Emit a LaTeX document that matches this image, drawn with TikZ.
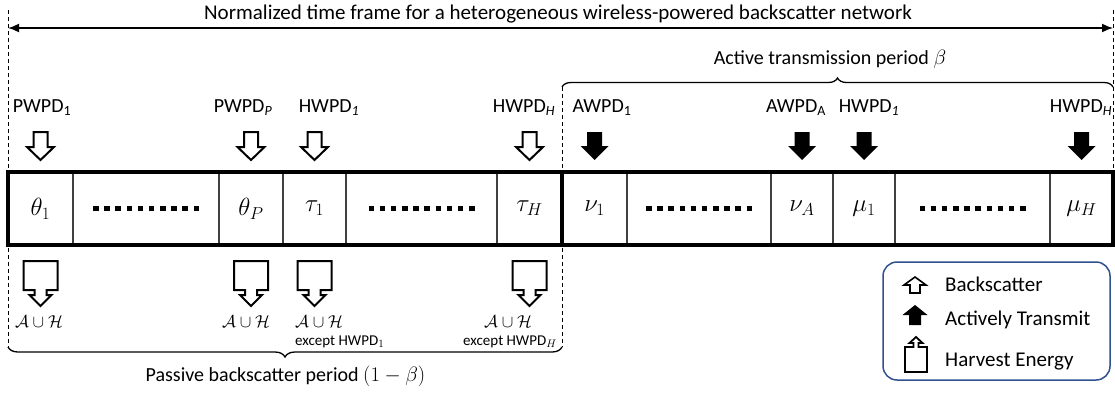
\documentclass[tikz,border=0pt]{standalone}
\usepackage{fontspec}
\setmainfont{Carlito}
\usetikzlibrary{positioning,calc,arrows.meta,decorations.pathreplacing}

\definecolor{legblue}{RGB}{47,82,143}

\tikzset{
  cell/.style={draw=black!75, line width=1.2pt, minimum height=73pt, inner sep=0pt, outer sep=0pt, font=\fontsize{26}{30}\selectfont},
  lbl/.style={font=\fontsize{20}{24}\selectfont, inner sep=0pt},
  sml/.style={font=\fontsize{15}{18}\selectfont, inner sep=0pt},
  setlbl/.style={font=\fontsize{18}{20}\selectfont, inner sep=0pt},
  legtxt/.style={font=\fontsize{21}{25}\selectfont, inner sep=0pt, anchor=base west},
  dotrow/.style={line width=5.5pt, dash pattern=on 5.5pt off 5.67pt},
  dashline/.style={line width=0.9pt, dash pattern=on 4pt off 3pt},
  brc/.style={decorate, decoration={brace, amplitude=#1}, line width=1.3pt},
  hollowdn/.pic={\draw[line width=2pt, fill=white] (-7,0) -- (7,0) -- (7,15) -- (13.5,15) -- (0,28) -- (-13.5,15) -- (-7,15) -- cycle;},
  filleddn/.pic={\fill (-7.5,0) -- (7.5,0) -- (7.5,14) -- (14,14) -- (0,28) -- (-14,14) -- (-7.5,14) -- cycle;},
  harvestdn/.pic={\draw[line width=2pt, fill=white] (-17,0) -- (17,0) -- (17,29) -- (6,29) -- (6,34) -- (11,34) -- (0,45) -- (-11,34) -- (-6,34) -- (-6,29) -- (-17,29) -- cycle;},
  hollowup/.pic={\draw[line width=1.6pt, fill=white] (0,0) -- (11,8) -- (5,8) -- (5,16) -- (-5,16) -- (-5,8) -- (-11,8) -- cycle;},
  filledup/.pic={\fill (0,0) -- (12.5,10) -- (6,10) -- (6,20) -- (-6,20) -- (-6,10) -- (-12.5,10) -- cycle;},
  harvestup/.pic={\draw[line width=1.8pt, fill=white] (0,0) -- (6.5,6) -- (2.5,6) -- (2.5,10) -- (11,10) -- (11,35) -- (-11,35) -- (-11,10) -- (-2.5,10) -- (-2.5,6) -- (-6.5,6) -- cycle;}
}

\begin{document}
\begin{tikzpicture}[x=1pt,y=-1pt]
  \useasboundingbox (0,0) rectangle (1115,394);

  % whole frame
  \coordinate (tl) at (8,28);
  \coordinate (tr) at (1113,28);
  \draw[{Latex[length=11pt,width=9pt]}-{Latex[length=11pt,width=9pt]}, line width=1.6pt] (tl) -- (tr);
  \node[font=\fontsize{21}{25}\selectfont, inner sep=0pt, anchor=base] (title) at (558,19.5) {Normalized time frame for a heterogeneous wireless-powered backscatter network};

  \draw[dashline] (8,10) -- (8,347);
  \draw[dashline] (562,87) -- (562,347);
  \draw[dashline] (1113,10) -- (1113,172);

  % slots
  \node[cell, minimum width=65pt, anchor=west] (th1) at (8,208.5) {$\theta_1$};
  \node[cell, minimum width=146pt, right=0pt of th1] (dA) {};
  \node[cell, minimum width=64pt, right=0pt of dA] (thP) {$\theta_P$};
  \node[cell, minimum width=63pt, right=0pt of thP] (tau1) {$\tau_1$};
  \node[cell, minimum width=151pt, right=0pt of tau1] (dB) {};
  \node[cell, minimum width=65pt, right=0pt of dB] (tauH) {$\tau_H$};
  \node[cell, minimum width=65pt, right=0pt of tauH] (nu1) {$\nu_1$};
  \node[cell, minimum width=144pt, right=0pt of nu1] (dC) {};
  \node[cell, minimum width=62pt, right=0pt of dC] (nuA) {$\nu_A$};
  \node[cell, minimum width=62pt, right=0pt of nuA] (mu1) {$\mu_1$};
  \node[cell, minimum width=155pt, right=0pt of mu1] (dD) {};
  \node[cell, minimum width=63pt, right=0pt of dD] (muH) {$\mu_H$};

  \foreach \c in {dA,dB,dC,dD}
    \draw[dotrow] ([xshift=-53pt]\c.center) -- ([xshift=53pt]\c.center);
  \draw[line width=4.5pt] (th1.north west) rectangle (muH.south east);
  \draw[line width=4pt] (tauH.north east) -- (tauH.south east);

  % devices
  \foreach \c in {th1,thP,tau1,tauH}
    \pic at ($(\c.north)+(0,-40)$) {hollowdn};
  \foreach \c in {nu1,nuA,mu1,muH}
    \pic at ($(\c.north)+(0,-40)$) {filleddn};
  \foreach \c in {th1,thP,tau1,tauH}
    \pic at ($(\c.south)+(0,16)$) {harvestdn};

  \node[lbl, anchor=base] (pw1) at (42,112.5) {PWPD\textsubscript{1}};
  \node[lbl, anchor=base] (pwP) at (243,112.5) {PWPD\textsubscript{\textit{P}}};
  \node[lbl, anchor=base] (hw1) at (329,112.5) {HWPD\textsubscript{\textit{1}}};
  \node[lbl, anchor=base] (hwH) at (524,112.5) {HWPD\textsubscript{\textit{H}}};
  \node[lbl, anchor=base] (aw1) at (602,112.5) {AWPD\textsubscript{1}};
  \node[lbl, anchor=base] (awA) at (796,112.5) {AWPD\textsubscript{A}};
  \node[lbl, anchor=base] (hw1b) at (869,112.5) {HWPD\textsubscript{\textit{1}}};
  \node[lbl, anchor=base] (hwHb) at (1081,112.5) {HWPD\textsubscript{\textit{H}}};

  \node[setlbl, anchor=base] (s1) at (39,327) {$\mathcal{A}\cup\mathcal{H}$};
  \node[setlbl, anchor=base] (s2) at (246,327) {$\mathcal{A}\cup\mathcal{H}$};
  \node[setlbl, anchor=base west] (s3) at (295,327) {$\mathcal{A}\cup\mathcal{H}$};
  \node[sml, anchor=base west] (e3) at (295,345) {except HWPD$_1$};
  \node[setlbl, anchor=base] (s4) at (508,327) {$\mathcal{A}\cup\mathcal{H}$};
  \node[sml, anchor=base] (e4) at (510,345) {except HWPD$_H$};

  % periods
  \coordinate (aL) at (562,87);
  \coordinate (aR) at (1113,87);
  \draw[brc=9pt] (aL) -- (aR);
  \node[lbl, anchor=base] (act) at (830,64) {Active transmission period $\beta$};
  \coordinate (pL) at (8,347);
  \coordinate (pR) at (562,347);
  \draw[brc=10pt] (pR) -- (pL);
  \node[lbl, anchor=base] (pas) at (285.5,381.5) {Passive backscatter period $(1-\beta)$};

  % legend
  \node[draw=legblue, line width=1.5pt, rounded corners=14pt, minimum width=227pt, minimum height=118pt, inner sep=0pt] (leg) at (996.5,321) {};
  \pic at (915,277) {hollowup};
  \pic at (915,305) {filledup};
  \pic at (916,337) {harvestup};
  \node[legtxt] (lb) at (945,291.5) {Backscatter};
  \node[legtxt] (la) at (945,325.5) {Actively Transmit};
  \node[legtxt] (lh) at (945,366) {Harvest Energy};
\end{tikzpicture}
\end{document}
